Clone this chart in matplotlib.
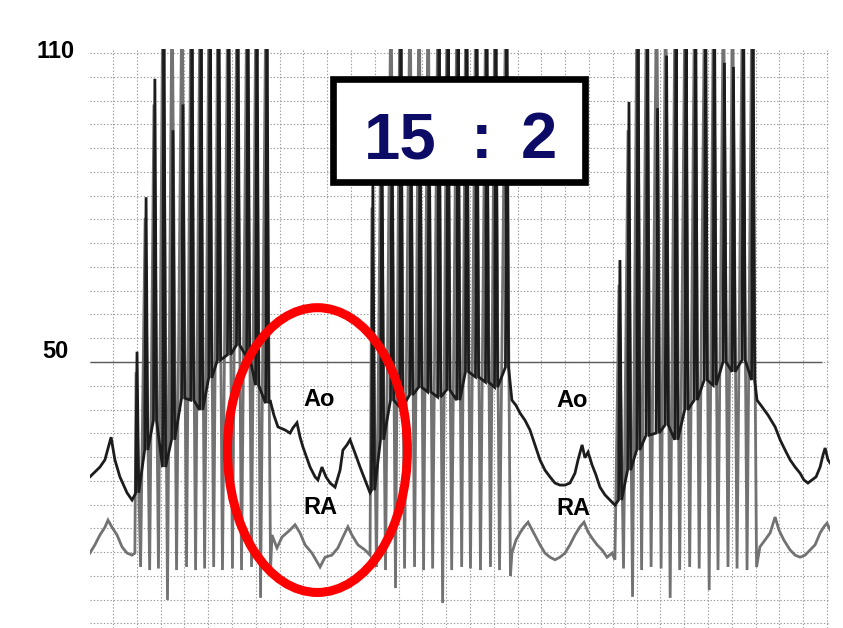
import numpy as np
import matplotlib
matplotlib.use('Agg')
import matplotlib.pyplot as plt
from matplotlib.patches import Ellipse, Rectangle

plt.rcParams['font.family'] = ['Liberation Sans', 'DejaVu Sans']

# time in s (1 s = one major grid division), pressure in mmHg

# ventilation pauses, aortic (Ao) pressure
ao_p0_t = [-0.97, -0.55, -0.34, -0.08, 0.08, 0.29, 0.59, 0.80, 0.92]
ao_p0_v = [27.7, 29.6, 31.0, 35.4, 31.0, 27.7, 24.6, 23.2, 24.2]
ao_p1_t = [6.60, 6.76, 6.93, 7.23, 7.44, 7.56, 7.73, 7.86, 7.98, 8.28, 8.49, 8.61,
           8.78, 8.95, 9.12, 9.33, 9.54, 9.66, 9.83, 9.96, 10.17, 10.38, 10.59, 10.80]
ao_p1_v = [42.6, 39.7, 37.4, 36.8, 36.2, 37.2, 38.2, 35.4, 33.5, 29.6, 27.7, 27.1,
           29.6, 27.7, 26.5, 25.7, 29.0, 32.9, 33.9, 34.9, 32.3, 29.6, 27.1, 24.6]
ao_p2_t = [16.76, 16.93, 17.10, 17.31, 17.52, 17.73, 17.94, 18.15, 18.36, 18.57, 18.78, 18.99,
           19.20, 19.41, 19.54, 19.71, 19.83, 19.96, 20.13, 20.29, 20.46, 20.67, 20.88, 21.09]
ao_p2_v = [42.6, 41.6, 40.1, 38.7, 36.8, 33.9, 31.0, 29.0, 27.7, 26.5, 26.1, 26.1,
           26.5, 28.4, 31.0, 33.9, 31.4, 32.5, 30.0, 28.1, 25.7, 24.2, 23.2, 22.2]
ao_p3_t = [27.06, 27.27, 27.52, 27.82, 28.03, 28.24, 28.45, 28.66, 28.87,
           29.03, 29.20, 29.37, 29.54, 29.71, 29.83, 29.92, 30.04, 30.13]
ao_p3_v = [42.6, 41.3, 39.7, 37.4, 34.9, 32.9, 31.0, 29.6, 28.4,
           27.1, 26.5, 27.1, 27.7, 29.6, 31.9, 33.3, 31.0, 30.4]

# ventilation pauses, right atrial (RA) pressure
ra_p0_t = [-0.97, -0.76, -0.55, -0.34, -0.21, -0.04, 0.17, 0.38, 0.59, 0.80, 0.92]
ra_p0_v = [12.9, 14.5, 16.4, 17.9, 19.3, 17.9, 16.4, 14.1, 12.9, 12.5, 12.9]
ra_p1_t = [6.68, 6.89, 7.10, 7.44, 7.65, 7.86, 8.07, 8.36, 8.70,
           8.91, 9.20, 9.45, 9.66, 9.87, 10.04, 10.29, 10.59, 10.80]
ra_p1_v = [16.4, 13.9, 16.0, 17.4, 18.4, 16.8, 14.5, 12.9, 10.2,
           12.1, 12.5, 13.9, 16.0, 18.0, 16.4, 14.5, 13.5, 12.5]
ra_p2_t = [16.76, 16.93, 17.10, 17.27, 17.44, 17.61, 17.77, 17.94, 18.15, 18.36, 18.57, 18.78,
           18.99, 19.20, 19.41, 19.62, 19.79, 19.96, 20.13, 20.34, 20.55, 20.76, 20.97, 21.09]
ra_p2_v = [12.9, 15.4, 16.8, 18.0, 18.9, 17.4, 16.0, 14.5, 12.9, 12.1, 11.6, 12.1,
           12.9, 14.5, 16.4, 18.0, 18.9, 17.0, 15.8, 14.5, 13.5, 12.1, 12.9, 11.6]
ra_p3_t = [27.18, 27.39, 27.61, 27.82, 27.98, 28.19, 28.45, 28.66,
           28.87, 29.08, 29.29, 29.50, 29.71, 29.87, 30.00, 30.13]
ra_p3_v = [14.1, 15.4, 16.8, 19.9, 17.4, 15.4, 13.5, 12.5,
           12.1, 12.5, 13.5, 14.5, 16.8, 18.0, 18.7, 17.4]

# 15 compressions per cycle: times, Ao foot / peak, RA trough / peak
b1_t = [1.01, 1.39, 1.76, 2.14, 2.52, 2.94, 3.32, 3.70, 4.08, 4.45, 4.87, 5.25, 5.67, 6.05, 6.47]
b1_ao_foot = [24.6, 32.9, 38.7, 29.6, 34.9, 43.0, 42.6, 40.7, 46.9, 50.4, 51.4, 53.3, 51.0, 45.5, 42.0]
b1_ao_peak = [52, 82, 105, 125, 95, 100, 125, 125, 125, 125, 125, 125, 125, 125, 125]
b1_ra_low = [10.2, 9.6, 9.9, 3.8, 9.6, 10.2, 9.6, 9.9, 10.2, 9.6, 9.9, 9.6, 10.2, 4.2, 9.6]
b1_ra_peak = [48, 78, 100, 125, 125, 125, 125, 125, 125, 125, 125, 125, 125, 125, 125]

b2_t = [10.92, 11.30, 11.72, 12.10, 12.52, 12.90, 13.28, 13.70, 14.08, 14.50, 14.87, 15.29, 15.71, 16.09, 16.55]
b2_ao_foot = [25.1, 34.9, 42.6, 41.3, 43.6, 45.1, 44.2, 43.2, 44.6, 42.6, 48.1, 47.1, 46.1, 45.1, 49.0]
b2_ao_peak = [85, 98, 98, 125, 98, 98, 98, 125, 125, 125, 125, 125, 125, 125, 125]
b2_ra_low = [10.2, 9.6, 6.1, 9.9, 10.2, 9.6, 9.9, 3.2, 9.6, 10.2, 9.9, 9.6, 10.2, 9.6, 8.5]
b2_ra_peak = [80, 100, 125, 125, 125, 125, 125, 125, 125, 125, 125, 125, 125, 125, 125]

b3_t = [21.30, 21.68, 22.06, 22.46, 22.88, 23.26, 23.66, 24.08, 24.48, 24.90, 25.27, 25.69, 26.07, 26.49, 26.89]
b3_ao_foot = [23.2, 29.0, 32.9, 35.8, 36.2, 37.8, 34.9, 40.7, 42.6, 46.5, 45.5, 50.0, 48.1, 50.4, 46.5]
b3_ao_peak = [69.8, 100.5, 125, 125, 99.3, 109.5, 125, 125, 125, 125, 125, 108.1, 107.3, 125, 125]
b3_ra_low = [9.9, 4.4, 9.6, 10.2, 9.9, 4.2, 9.6, 10.2, 9.9, 5.7, 9.6, 10.2, 9.9, 9.6, 10.2]
b3_ra_peak = [65, 95, 125, 125, 125, 125, 125, 125, 125, 125, 125, 125, 125, 125, 125]


def ao_spikes(t, foot, peak):
    xs, ys = [], []
    for ti, fi, pi in zip(t, foot, peak):
        xs += [ti - 0.06, ti, ti + 0.07]
        ys += [fi, pi, fi]
    return xs, ys


def ra_spikes(t, low, peak):
    xs, ys = [], []
    for ti, lo, pi in zip(t, low, peak):
        xs += [ti - 0.04, ti + 0.15]
        ys += [pi, lo]
    return xs, ys


ao_x, ao_y = [], []
ra_x, ra_y = [], []
pauses_ao = [(ao_p0_t, ao_p0_v), (ao_p1_t, ao_p1_v), (ao_p2_t, ao_p2_v), (ao_p3_t, ao_p3_v)]
pauses_ra = [(ra_p0_t, ra_p0_v), (ra_p1_t, ra_p1_v), (ra_p2_t, ra_p2_v), (ra_p3_t, ra_p3_v)]
bursts = [(b1_t, b1_ao_foot, b1_ao_peak, b1_ra_low, b1_ra_peak),
          (b2_t, b2_ao_foot, b2_ao_peak, b2_ra_low, b2_ra_peak),
          (b3_t, b3_ao_foot, b3_ao_peak, b3_ra_low, b3_ra_peak)]
for k in range(4):
    ao_x += pauses_ao[k][0]
    ao_y += pauses_ao[k][1]
    ra_x += pauses_ra[k][0]
    ra_y += pauses_ra[k][1]
    if k < 3:
        bt, af, ap, rl, rp = bursts[k]
        xs, ys = ao_spikes(bt, af, ap)
        ao_x += xs
        ao_y += ys
        xs, ys = ra_spikes(bt, rl, rp)
        ra_x += xs
        ra_y += ys

W, H = 843, 628
fig = plt.figure(figsize=(W / 100, H / 100), dpi=100)
fig.patch.set_facecolor('white')
ax = fig.add_axes([90 / W, 0, 740 / W, (H - 49) / H])
ax.set_xlim(-0.966, 30.126)
ax.set_ylim(-1.65, 110.78)
ax.axis('off')

# chart paper grid
grid_t = np.arange(0, 31)
grid_v = 50 + np.arange(-11, 14) * 60 / 13
ax.vlines(grid_t, -1.65, 110.78, colors='0.6', lw=0.8, linestyles=(0, (1.2, 1.8)), zorder=1)
ax.hlines(grid_v, -0.966, 30.126, colors='0.6', lw=0.8, linestyles=(0, (1.2, 1.8)), zorder=1)
ax.hlines(50, -0.966, 29.79, colors='0.35', lw=1.0, zorder=1.5)

ax.plot(ra_x, ra_y, color='#727272', lw=2.0, zorder=2, solid_joinstyle='miter')
ax.plot(ao_x, ao_y, color='#1c1c1c', lw=2.0, zorder=3, solid_joinstyle='miter')

ax.text(8.66, 42.8, 'Ao', fontsize=17, fontweight='bold', ha='center', va='center', zorder=4)
ax.text(8.70, 21.8, 'RA', fontsize=17, fontweight='bold', ha='center', va='center', zorder=4)
ax.text(19.29, 42.6, 'Ao', fontsize=17, fontweight='bold', ha='center', va='center', zorder=4)
ax.text(19.33, 21.6, 'RA', fontsize=17, fontweight='bold', ha='center', va='center', zorder=4)

ax.add_patch(Ellipse((8.59, 32.9), 7.56, 55.3, fill=False, ec='#ff0000', lw=6.5, zorder=6))

# axis labels
fig.text(55.5 / W, 1 - 52 / H, '110', fontsize=17, fontweight='bold', ha='center', va='center')
fig.text(55.5 / W, 1 - 352 / H, '50', fontsize=17, fontweight='bold', ha='center', va='center')

# ratio box
fig.patches.append(Rectangle((333.3 / W, 1 - 181.7 / H), 251.4 / W, 102.4 / H,
                             transform=fig.transFigure, fc='white', ec='black', lw=4.8, zorder=10))
for s, xc in [('15', 400), (':', 482), ('2', 539)]:
    fig.text(xc / W, 1 - 158 / H, s, fontsize=47, fontweight='bold', color='#0c0c66',
             ha='center', va='baseline', zorder=11)

fig.savefig('out.png', dpi=100)
